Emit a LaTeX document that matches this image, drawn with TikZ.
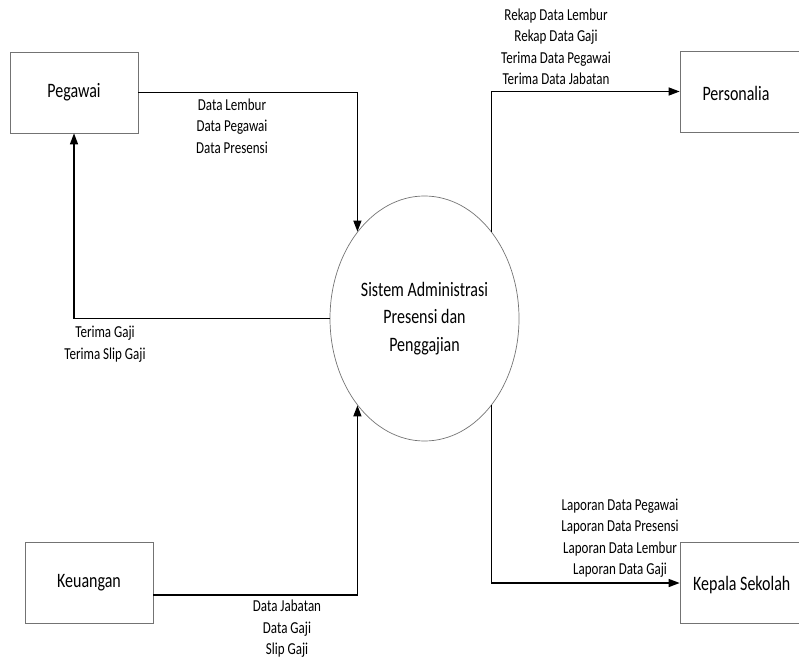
\documentclass[tikz,border=0pt]{standalone}
\usepackage{fontspec}
\setmainfont[FakeStretch=0.78]{Carlito}
\usetikzlibrary{arrows.meta,shapes.geometric,calc}
\begin{document}
\begin{tikzpicture}[x=1pt,y=-1pt,
  entity/.style={draw=black!55,line width=0.7pt,minimum width=128pt,minimum height=81pt,inner sep=0pt,font=\fontsize{20.5}{24}\selectfont},
  proc/.style={draw=black!55,line width=0.7pt,ellipse,minimum width=189pt,minimum height=245pt,inner sep=0pt,align=center,font=\fontsize{20.5}{27.5}\selectfont},
  flow/.style={draw=black,line width=1.4pt,-{Triangle[length=11pt,width=8pt]}},
  lbl/.style={inner sep=0pt,align=center,font=\fontsize{16.7}{21.5}\selectfont}]
\useasboundingbox (0,0) rectangle (799,660);
\clip (0,0) rectangle (799,660);
\node[entity] (peg) at (74,92.5) {Pegawai};
\node[entity] (keu) at (89,583) {Keuangan};
\node[entity] (pers) at (744,91.5) {};
\node[entity] (kep) at (744,583) {};
\node[inner sep=0pt,font=\fontsize{20.5}{24}\selectfont] (perst) at (736,93) {Personalia};
\node[inner sep=0pt,font=\fontsize{20.5}{24}\selectfont,anchor=west] (kept) at (693,585) {Kepala Sekolah};
\node[proc] (sys) at (424.5,318.5) {Sistem Administrasi\\Presensi dan\\Penggajian};
\draw[flow] (peg.east) -| (sys.north west);
\draw[flow] (sys.west) -| (peg.south);
\draw[flow] ($(keu.east)+(0,12)$) -| (sys.south west);
\draw[flow] (sys.north east) |- (pers.west);
\draw[flow] (sys.south east) |- (kep.west);
\node[lbl] (l1) at (232,126) {Data Lembur\\Data Pegawai\\Data Presensi};
\node[lbl] (l2) at (556,47) {Rekap Data Lembur\\Rekap Data Gaji\\Terima Data Pegawai\\Terima Data Jabatan};
\node[lbl] (l3) at (105,344) {Terima Gaji\\Terima Slip Gaji};
\node[lbl] (l4) at (287,629) {Data Jabatan\\Data Gaji\\Slip Gaji};
\node[lbl] (l5) at (620,538) {Laporan Data Pegawai\\Laporan Data Presensi\\Laporan Data Lembur\\Laporan Data Gaji};
\end{tikzpicture}
\end{document}
